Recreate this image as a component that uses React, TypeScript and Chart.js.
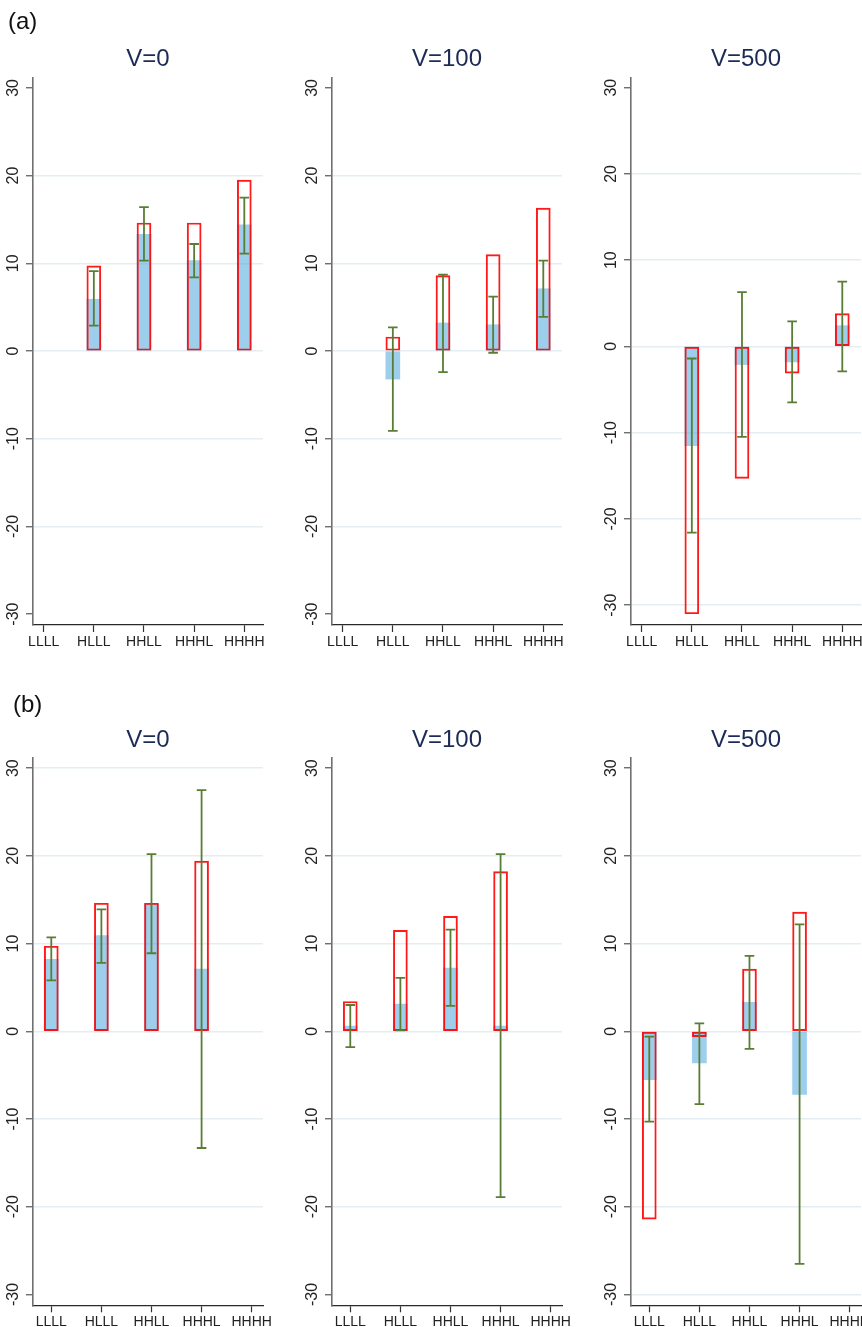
import React, { useEffect, useRef } from 'react';
import { Chart, registerables } from 'chart.js';

Chart.register(...registerables);

const CATEGORIES = ['LLLL', 'HLLL', 'HHLL', 'HHHL', 'HHHH'];
const Y_TICKS = [-30, -20, -10, 0, 10, 20, 30];
const PANEL_TITLES = ['V=0', 'V=100', 'V=500'];
const ROW_LABELS = ['(a)', '(b)'];

// Row (a)
const A_V0_BLUE = [null, 5.9, 13.3, 10.3, 14.4];
const A_V0_RED = [null, 9.7, 14.6, 14.6, 19.5];
const A_V0_LO = [null, 2.9, 10.3, 8.4, 11.1];
const A_V0_HI = [null, 9.1, 16.4, 12.2, 17.5];

const A_V100_BLUE = [null, -3.2, 3.2, 3.0, 7.1];
const A_V100_RED = [null, 1.6, 8.6, 11.0, 16.3];
const A_V100_LO = [null, -9.1, -2.4, -0.2, 3.9];
const A_V100_HI = [null, 2.7, 8.7, 6.2, 10.3];

const A_V500_BLUE = [null, -11.5, -2.1, -1.8, 2.4];
const A_V500_RED = [null, -31.0, -15.3, -3.1, 3.8];
const A_V500_LO = [null, -21.6, -10.5, -6.5, -2.9];
const A_V500_HI = [null, -1.4, 6.3, 2.9, 7.5];

// Row (b)
const B_V0_BLUE = [8.2, 10.9, 14.5, 7.1, null];
const B_V0_RED = [9.7, 14.6, 14.6, 19.4, null];
const B_V0_LO = [5.8, 7.8, 8.9, -13.3, null];
const B_V0_HI = [10.7, 13.9, 20.2, 27.5, null];

const B_V100_BLUE = [0.6, 3.1, 7.2, 0.6, null];
const B_V100_RED = [3.4, 11.5, 13.1, 18.2, null];
const B_V100_LO = [-1.8, 0.1, 2.9, -18.9, null];
const B_V100_HI = [3.0, 6.1, 11.6, 20.2, null];

const B_V500_BLUE = [-5.5, -3.6, 3.3, -7.2, null];
const B_V500_RED = [-21.4, -0.6, 7.1, 13.6, null];
const B_V500_LO = [-10.3, -8.3, -2.0, -26.5, null];
const B_V500_HI = [-0.6, 0.9, 8.6, 12.2, null];

const FONT = '"Liberation Sans", Arial, Helvetica, sans-serif';
const BLUE = 'rgba(77,166,220,0.55)';
const RED = 'rgba(255,0,0,0.9)';
const GREEN = '#5a7d35';
const GRID = '#e4edf1';
const TITLE_COLOR = '#1c2b55';
const LABEL_COLOR = '#222222';

type Panel = {
  row: number;
  col: number;
  blue: (number | null)[];
  red: (number | null)[];
  lo: (number | null)[];
  hi: (number | null)[];
  yMin: number;
  yMax: number;
  xMin: number;
  xMax: number;
  hideTop: boolean;
  hideBottom: boolean;
};

const ROW_TOP = [0, 660];
const ROW_H = [660, 667];
const CHART_TOP = [78, 758.3];
const CHART_BOTTOM = [625, 1305.3];
const COL_LEFT = [0, 299, 598];
const CANVAS_W = 299;
const AXIS_W = 33;
const PLOT_W = 230;

const PANELS: Panel[] = [
  { row: 0, col: 0, blue: A_V0_BLUE, red: A_V0_RED, lo: A_V0_LO, hi: A_V0_HI, yMin: -31.24, yMax: 31.13, xMin: 0.787, xMax: 5.373, hideTop: true, hideBottom: true },
  { row: 0, col: 1, blue: A_V100_BLUE, red: A_V100_RED, lo: A_V100_LO, hi: A_V100_HI, yMin: -31.24, yMax: 31.13, xMin: 0.787, xMax: 5.373, hideTop: true, hideBottom: true },
  { row: 0, col: 2, blue: A_V500_BLUE, red: A_V500_RED, lo: A_V500_LO, hi: A_V500_HI, yMin: -32.3, yMax: 31.12, xMin: 0.787, xMax: 5.373, hideTop: true, hideBottom: false },
  { row: 1, col: 0, blue: B_V0_BLUE, red: B_V0_RED, lo: B_V0_LO, hi: B_V0_HI, yMin: -31.23, yMax: 31.12, xMin: 0.635, xMax: 5.226, hideTop: false, hideBottom: true },
  { row: 1, col: 1, blue: B_V100_BLUE, red: B_V100_RED, lo: B_V100_LO, hi: B_V100_HI, yMin: -31.23, yMax: 31.12, xMin: 0.635, xMax: 5.226, hideTop: true, hideBottom: true },
  { row: 1, col: 2, blue: B_V500_BLUE, red: B_V500_RED, lo: B_V500_LO, hi: B_V500_HI, yMin: -31.23, yMax: 31.12, xMin: 0.635, xMax: 5.226, hideTop: true, hideBottom: false },
];

function toPoints(vals: (number | null)[]) {
  const pts: { x: number; y: number }[] = [];
  vals.forEach((v, i) => {
    if (v !== null && v !== undefined) pts.push({ x: i + 1, y: v });
  });
  return pts;
}

function PanelChart({ p }: { p: Panel }) {
  const ref = useRef<HTMLCanvasElement | null>(null);
  useEffect(() => {
    if (!ref.current) return;
    const height = ROW_H[p.row];
    const padTop = CHART_TOP[p.row] - ROW_TOP[p.row];
    const xAxisH = ROW_TOP[p.row] + height - CHART_BOTTOM[p.row];
    const title = PANEL_TITLES[p.col];

    const overlay = {
      id: 'overlay' + p.row + p.col,
      afterDatasetsDraw(chart: any) {
        const ctx = chart.ctx;
        const xs = chart.scales.x;
        const ys = chart.scales.y;
        ctx.save();
        ctx.strokeStyle = GREEN;
        ctx.lineWidth = 1.8;
        p.lo.forEach((l, i) => {
          const h = p.hi[i];
          if (l === null || h === null) return;
          const px = xs.getPixelForValue(i + 1);
          const p1 = ys.getPixelForValue(l);
          const p2 = ys.getPixelForValue(h);
          ctx.beginPath();
          ctx.moveTo(px, p1);
          ctx.lineTo(px, p2);
          ctx.moveTo(px - 4.8, p1);
          ctx.lineTo(px + 4.8, p1);
          ctx.moveTo(px - 4.8, p2);
          ctx.lineTo(px + 4.8, p2);
          ctx.stroke();
        });
        ctx.restore();
      },
      afterDraw(chart: any) {
        const ctx = chart.ctx;
        const xs = chart.scales.x;
        const ys = chart.scales.y;
        const area = chart.chartArea;
        ctx.save();
        ctx.fillStyle = LABEL_COLOR;
        ctx.font = '16px ' + FONT;
        ctx.textAlign = 'center';
        ctx.textBaseline = 'alphabetic';
        Y_TICKS.forEach((v) => {
          const py = ys.getPixelForValue(v);
          ctx.save();
          ctx.translate(area.left - 15.3, py);
          ctx.rotate(-Math.PI / 2);
          ctx.fillText(String(v), 0, 0);
          ctx.restore();
        });
        ctx.font = '14px ' + FONT;
        CATEGORIES.forEach((c, i) => {
          const px = xs.getPixelForValue(i + 1);
          ctx.fillText(c, px, area.bottom + 20.5);
        });
        ctx.fillStyle = TITLE_COLOR;
        ctx.font = '24px ' + FONT;
        ctx.fillText(title, (area.left + area.right) / 2, area.top - 11.6);
        ctx.restore();
      },
    };

    const chart = new Chart(ref.current, {
      type: 'bar',
      data: {
        datasets: [
          {
            label: 'red',
            data: toPoints(p.red),
            backgroundColor: 'rgba(0,0,0,0)',
            borderColor: RED,
            borderWidth: 1.3,
            borderSkipped: false,
            barThickness: 14,
            grouped: false,
          } as any,
          {
            label: 'blue',
            data: toPoints(p.blue),
            backgroundColor: BLUE,
            borderWidth: 0,
            barThickness: 14,
            grouped: false,
          } as any,
        ],
      },
      options: {
        animation: false,
        responsive: false,
        events: [],
        layout: { padding: { top: padTop, left: 0, right: CANVAS_W - AXIS_W - PLOT_W, bottom: 0 } },
        plugins: { legend: { display: false }, tooltip: { enabled: false }, title: { display: false } },
        scales: {
          x: {
            type: 'linear',
            min: p.xMin,
            max: p.xMax,
            offset: false,
            afterBuildTicks: (s: any) => {
              s.ticks = CATEGORIES.map((_, i) => ({ value: i + 1 }));
            },
            afterFit: (s: any) => {
              s.height = xAxisH;
            },
            ticks: { display: false },
            grid: {
              display: true,
              offset: false,
              drawOnChartArea: false,
              drawTicks: true,
              tickLength: 7,
              tickColor: '#333333',
              tickWidth: 1.2,
            },
            border: { display: true, color: '#2a2a2a', width: 1.3 },
          },
          y: {
            type: 'linear',
            min: p.yMin,
            max: p.yMax,
            afterBuildTicks: (s: any) => {
              s.ticks = Y_TICKS.map((v) => ({ value: v }));
            },
            afterFit: (s: any) => {
              s.width = AXIS_W;
            },
            ticks: { display: false },
            grid: {
              display: true,
              drawTicks: true,
              tickLength: 7,
              tickColor: '#555555',
              tickWidth: 1.2,
              lineWidth: 1.5,
              color: (c: any) => {
                const v = c.tick ? c.tick.value : 0;
                if (v === 30 && p.hideTop) return 'rgba(0,0,0,0)';
                if (v === -30 && p.hideBottom) return 'rgba(0,0,0,0)';
                return GRID;
              },
            },
            border: { display: true, color: '#707070', width: 1.6 },
          },
        },
      } as any,
      plugins: [overlay],
    });
    return () => chart.destroy();
  }, [p]);

  return (
    <canvas
      ref={ref}
      width={CANVAS_W}
      height={ROW_H[p.row]}
      style={{
        position: 'absolute',
        left: COL_LEFT[p.col],
        top: ROW_TOP[p.row],
        width: CANVAS_W,
        height: ROW_H[p.row],
      }}
    />
  );
}

export default function App() {
  return (
    <div
      style={{
        position: 'absolute',
        left: 0,
        top: 0,
        width: 862,
        height: 1327,
        overflow: 'hidden',
        background: '#ffffff',
      }}
    >
      {PANELS.map((p) => (
        <PanelChart key={p.row + '-' + p.col} p={p} />
      ))}
      <div
        style={{
          position: 'absolute',
          left: 8,
          top: 9.2,
          fontFamily: FONT,
          fontSize: 24,
          lineHeight: '24px',
          color: '#111',
          whiteSpace: 'nowrap',
        }}
      >
        {ROW_LABELS[0]}
      </div>
      <div
        style={{
          position: 'absolute',
          left: 13,
          top: 692,
          fontFamily: FONT,
          fontSize: 24,
          lineHeight: '24px',
          color: '#111',
          whiteSpace: 'nowrap',
        }}
      >
        {ROW_LABELS[1]}
      </div>
    </div>
  );
}
